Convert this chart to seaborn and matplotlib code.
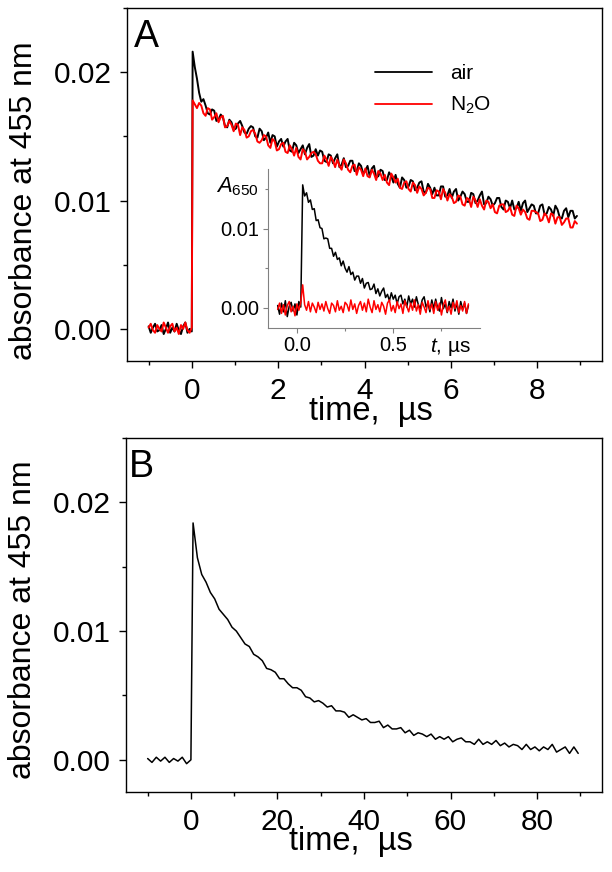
import numpy as np
import pandas as pd
import matplotlib
matplotlib.use("Agg")
import matplotlib.pyplot as plt
from matplotlib.ticker import MultipleLocator, FormatStrFormatter
import seaborn as sns

# all absorbance values below are in units of 1e-4

# panel A: 455 nm, 0..9 us  (time grid: -1.0..0.0 step 0.05, then 0.02..8.92 step 0.05)
t_a = np.round(np.concatenate([np.arange(-1.0, 0.025, 0.05), np.arange(0.02, 8.945, 0.05)]), 2)
air_a_pre = [2, -3, 1, 4, -2, -1, 3, -4, 0, 5, -3, 1, -2, 4, -1, -4, 2, 5, -3, 0, -2]
air_a_post = [216, 204, 195, 184, 177, 179, 174, 168, 167, 171,
              170, 162, 163, 167, 165, 158, 157, 163, 161, 155,
              156, 160, 162, 158, 153, 152, 156, 158, 157, 150,
              149, 156, 154, 147, 149, 153, 145, 151, 150, 142,
              146, 148, 142, 146, 148, 139, 138, 145, 143, 137,
              140, 143, 136, 141, 144, 134, 135, 140, 135, 139,
              138, 131, 130, 136, 135, 129, 133, 136, 126, 128,
              133, 126, 127, 131, 131, 123, 123, 129, 127, 121,
              123, 127, 119, 125, 127, 118, 119, 124, 123, 116,
              116, 122, 119, 114, 120, 113, 110, 118, 116, 110,
              111, 116, 115, 108, 110, 114, 115, 107, 106, 113,
              110, 105, 110, 104, 104, 111, 111, 103, 104, 109,
              102, 107, 109, 100, 103, 107, 105, 99, 99, 106,
              105, 98, 100, 104, 107, 97, 98, 103, 101, 96,
              98, 102, 102, 95, 93, 100, 99, 94, 100, 93,
              94, 99, 92, 98, 100, 91, 94, 97, 96, 90,
              90, 96, 97, 89, 90, 95, 93, 88, 96, 93,
              87, 86, 92, 94, 87, 92, 92, 86, 88]
n2o_a_pre = [1, 4, -1, -3, 3, 0, -2, 5, 1, -3, 2, 4, -2, 1, -4, 3, 0, 5, -1, -3, 1]
n2o_a_post = [178, 175, 172, 176, 174, 168, 166, 172, 171, 163,
              165, 168, 161, 165, 166, 157, 158, 162, 159, 154,
              160, 159, 151, 157, 155, 149, 150, 154, 155, 152,
              146, 145, 147, 151, 150, 143, 141, 148, 146, 139,
              140, 144, 145, 138, 137, 143, 140, 135, 141, 134,
              132, 140, 138, 132, 134, 137, 138, 136, 131, 129,
              129, 135, 132, 127, 134, 131, 126, 132, 127, 124,
              132, 129, 124, 122, 127, 128, 120, 126, 124, 119,
              125, 119, 118, 124, 121, 116, 123, 121, 116, 120,
              114, 112, 121, 118, 114, 117, 110, 109, 114, 115,
              109, 107, 114, 112, 106, 111, 109, 104, 106, 110,
              109, 102, 102, 108, 107, 101, 109, 106, 100, 105,
              103, 98, 99, 104, 103, 97, 96, 102, 101, 95,
              103, 100, 95, 101, 96, 93, 100, 99, 94, 97,
              91, 90, 96, 97, 97, 91, 92, 95, 89, 88,
              96, 94, 89, 93, 91, 86, 85, 92, 92, 91,
              90, 84, 85, 90, 88, 83, 90, 89, 82, 87,
              87, 81, 83, 86, 86, 79, 79, 84, 82]

# inset: 650 nm, time grid -0.10..0.89 step 0.01
t_in = np.round(np.arange(-0.10, 0.895, 0.01), 2)
air_in_pre = [3, -8, 6, -5, 9, -11, 2, 7, -4, 5, -9, 8, 1]
air_in_post = [155, 141, 145, 133, 136, 124, 125, 110, 111, 101,
               100, 87, 88, 87, 75, 75, 65, 70, 61, 63,
               53, 59, 50, 45, 52, 42, 45, 35, 40, 40,
               31, 37, 25, 31, 32, 23, 24, 30, 18, 24,
               15, 21, 25, 13, 17, 9, 19, 11, 16, 5,
               14, 16, 5, 11, 1, 15, 5, 11, 1, 14,
               4, -1, 10, 14, 1, 6, -5,
               10, -1, 11, 0, -4, 13, -1, 5, -6, 8, 0, 11, -4, 6, -8, 8, -2, 6, -7, 3]
n2o_in_pre = [-2, 6, -7, 4, -9, 3, 8, -5, 2, -10, 5, -3, 7]
n2o_in_post = [29, 4, -3, 8, -5, 6, 1, -6, 7, -2,
               5, -4, 8, -1, -7, 6, 3, -5, 9, -3,
               2, -6, 7, 4, -4, 10, -2, 5, -7, 3,
               8, -3, 6, -5, 11, 1, -6, 9, -2, 4,
               -5, 7, 2, -8, 6, 10, -4, 3, -6, 8,
               -1, 5, -7, 9, 2, -5, 6, -3, 10, -4,
               4, -8, 7, 1, -6, 9, -2,
               5, -7, 8, -3, 6, -9, 4, 10, -5, 2, -8, 7, -1, 9, -6, 3, -4, 8, -7, 5]

# panel B: 455 nm, 0..90 us (time grid -10..0 step 1, then 0.5..89.5 step 1)
t_b = np.concatenate([np.arange(-10, 0.5, 1.0), np.arange(0.5, 90.0, 1.0)])
b_pre = [1, -2, 2, -1, 2, -2, 1, -1, 2, -3, 0]
b_post = [184, 157, 144, 138, 130, 125, 117, 113, 109, 103,
          100, 95, 90, 88, 82, 80, 77, 71, 70, 68,
          63, 63, 59, 56, 56, 54, 49, 48, 45, 46,
          44, 41, 42, 38, 38, 37, 33, 35, 33, 31,
          32, 29, 29, 30, 25, 27, 24, 24, 25, 21,
          23, 19, 21, 20, 18, 20, 16, 18, 16, 18,
          14, 16, 17, 14, 14, 12, 16, 12, 14, 12,
          15, 11, 13, 10, 12, 11, 8, 12, 8, 10,
          7, 10, 8, 12, 6, 8, 10, 5, 10, 5]

scale = 1e-4
df_a = pd.DataFrame({"t": np.concatenate([t_a, t_a]),
                     "A": np.array(air_a_pre + air_a_post + n2o_a_pre + n2o_a_post) * scale,
                     "gas": ["air"] * len(t_a) + ["N$_2$O"] * len(t_a)})
df_in = pd.DataFrame({"t": np.concatenate([t_in, t_in]),
                      "A": np.array(air_in_pre + air_in_post + n2o_in_pre + n2o_in_post) * scale,
                      "gas": ["air"] * len(t_in) + ["N2O"] * len(t_in)})
df_b = pd.DataFrame({"t": t_b, "A": np.array(b_pre + b_post) * scale})

sns.set_theme(style="ticks")
plt.rcParams['font.family'] = ['Liberation Sans', 'DejaVu Sans']
plt.rcParams['mathtext.fontset'] = 'custom'
plt.rcParams['mathtext.rm'] = 'Liberation Sans'
plt.rcParams['mathtext.it'] = 'Liberation Sans:italic'
plt.rcParams['text.color'] = 'black'
plt.rcParams['axes.labelcolor'] = 'black'

W, H = 612, 872
fig = plt.figure(figsize=(W / 100, H / 100), dpi=100)
ax_a = fig.add_axes([127 / W, (H - 361) / H, 475 / W, 353 / H])
ax_b = fig.add_axes([126 / W, (H - 792) / H, 476 / W, 354 / H])
ins = fig.add_axes([268 / W, (H - 327.7) / H, 212 / W, 158.7 / H])
ins.patch.set_alpha(0)

palette = {"air": "black", "N$_2$O": "#ff0000"}
sns.lineplot(data=df_a, x="t", y="A", hue="gas", palette=palette, lw=1.4,
             estimator=None, sort=False, ax=ax_a)
sns.lineplot(data=df_in, x="t", y="A", hue="gas", palette={"air": "black", "N2O": "#ff0000"},
             lw=1.1, estimator=None, sort=False, legend=False, ax=ins)
sns.lineplot(data=df_b, x="t", y="A", color="black", lw=1.1, estimator=None, sort=False, ax=ax_b)


def style_main(ax, xlim, xmaj, xmin_):
    ax.set_xlim(*xlim)
    ax.set_ylim(-0.0025, 0.025)
    ax.xaxis.set_major_locator(MultipleLocator(xmaj))
    ax.xaxis.set_minor_locator(MultipleLocator(xmin_))
    ax.yaxis.set_major_locator(MultipleLocator(0.01))
    ax.yaxis.set_minor_locator(MultipleLocator(0.005))
    ax.yaxis.set_major_formatter(FormatStrFormatter('%.2f'))
    ax.tick_params(which='both', direction='out', top=False, right=False,
                   width=1.0, color='black', labelcolor='black', labelsize=21.5)
    ax.tick_params(which='major', length=5)
    ax.tick_params(which='minor', length=3)
    ax.tick_params(axis='x', which='major', pad=6.7)
    ax.tick_params(axis='y', which='major', pad=6.0)
    for s in ax.spines.values():
        s.set_linewidth(1.0)
        s.set_color('black')
    ax.set_ylabel("absorbance at 455 nm", fontsize=23)
    ax.set_xlabel("time,  µs", fontsize=23.5)


style_main(ax_a, (-1.5, 9.5), 2, 1)
style_main(ax_b, (-15, 95), 20, 10)
ax_a.xaxis.set_label_coords(0.514, -0.0986)
ax_b.xaxis.set_label_coords(0.473, -0.095)
ax_a.yaxis.set_label_coords(-0.186, 0.454)
ax_b.yaxis.set_label_coords(-0.184, 0.486)

ax_a.text(0.015, 0.890, "A", transform=ax_a.transAxes, fontsize=27, va='baseline', ha='left')
ax_b.text(0.006, 0.891, "B", transform=ax_b.transAxes, fontsize=27, va='baseline', ha='left')

leg = ax_a.legend(loc='upper left', bbox_to_anchor=(0.522, 0.84), frameon=False,
                  fontsize=15, handlelength=2.74, handletextpad=0.87,
                  labelspacing=0.55, borderpad=0, borderaxespad=0)
for line in leg.get_lines():
    line.set_linewidth(1.3)

# inset
ins.set_xlim(-0.15, 0.95)
ins.set_ylim(-0.0025, 0.0175)
ins.xaxis.set_major_locator(MultipleLocator(0.5))
ins.xaxis.set_minor_locator(MultipleLocator(0.25))
ins.yaxis.set_major_locator(MultipleLocator(0.01))
ins.yaxis.set_minor_locator(MultipleLocator(0.005))
ins.xaxis.set_major_formatter(FormatStrFormatter('%.1f'))
ins.yaxis.set_major_formatter(FormatStrFormatter('%.2f'))
ins.spines['top'].set_visible(False)
ins.spines['right'].set_visible(False)
for s in ('left', 'bottom'):
    ins.spines[s].set_color('#808080')
    ins.spines[s].set_linewidth(0.8)
ins.tick_params(which='both', direction='out', color='#808080', width=0.8,
                labelcolor='black', labelsize=14.5)
ins.tick_params(which='major', length=3.5, pad=2.5)
ins.tick_params(which='minor', length=2.5)
ins.set_xlabel("")
ins.set_ylabel("")
ins.text(-0.245, 0.853, r"$A_{650}$", transform=ins.transAxes, fontsize=15.8, va='baseline', ha='left')
ins.text(0.764, -0.151, r"$t$, µs", transform=ins.transAxes, fontsize=15, va='baseline', ha='left')

fig.savefig("out.png", dpi=100)
